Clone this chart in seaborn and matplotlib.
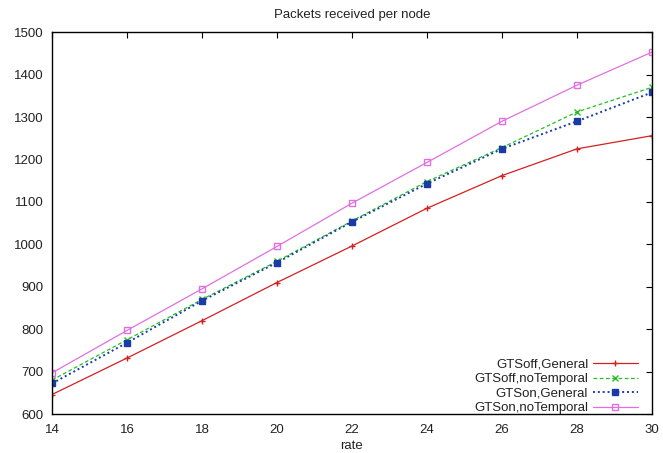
import pandas as pd
import seaborn as sns
import matplotlib.pyplot as plt

# --- data ---
rate = [14, 16, 18, 20, 22, 24, 26, 28, 30]
gts_off_general = [646, 732, 820, 910, 996, 1085, 1162, 1225, 1256]
gts_off_notemporal = [680, 775, 870, 960, 1055, 1148, 1228, 1312, 1370]
gts_on_general = [672, 768, 867, 957, 1053, 1143, 1225, 1290, 1358]
gts_on_notemporal = [697, 797, 895, 995, 1097, 1193, 1290, 1375, 1453]

labels = ["GTSoff,General", "GTSoff,noTemporal", "GTSon,General", "GTSon,noTemporal"]
series = [gts_off_general, gts_off_notemporal, gts_on_general, gts_on_notemporal]

styles = {
    "GTSoff,General": dict(color="#d42020", ls="-", marker="+", ms=5, mfc="#d42020", lw=0.9),
    "GTSoff,noTemporal": dict(color="#22c022", ls=(0, (3, 2)), marker="x", ms=4, mfc="#22c022", lw=0.9),
    "GTSon,General": dict(color="#1a3aa8", ls=(0, (1, 1.5)), marker="s", ms=4, mfc="#1a3aa8", lw=1.4),
    "GTSon,noTemporal": dict(color="#e070e0", ls="-", marker="s", ms=5, mfc="none", lw=0.9),
}

df = pd.DataFrame({
    "rate": rate * len(labels),
    "packets": sum(series, []),
    "series": [lab for lab in labels for _ in rate],
})

sns.set_theme(style="white")
plt.rcParams["font.family"] = ["Liberation Sans", "DejaVu Sans"]
FS = 9.5

fig = plt.figure(figsize=(6.63, 4.53), dpi=100)
ax = fig.add_axes([0.0784, 0.086, 0.905, 0.843])

for lab in labels:
    st = styles[lab]
    sub = df[df["series"] == lab]
    sns.lineplot(data=sub, x="rate", y="packets", ax=ax, label=lab,
                 color=st["color"], linestyle=st["ls"], linewidth=st["lw"],
                 marker=st["marker"], markersize=st["ms"],
                 markerfacecolor=st["mfc"], markeredgecolor=st["color"],
                 markeredgewidth=1.0)

ax.set_xlim(14, 30)
ax.set_ylim(600, 1500)
ax.set_xticks(range(14, 31, 2))
ax.set_yticks(range(600, 1501, 100))
ax.tick_params(direction="in", top=True, right=True, length=4, width=0.8,
               labelsize=FS, colors="black", labelcolor="#222222")
ax.tick_params(axis="y", pad=6)
ax.tick_params(axis="x", pad=7)
for sp in ax.spines.values():
    sp.set_color("black")
    sp.set_linewidth(1.0)

ax.set_xlabel("rate", fontsize=FS, labelpad=3, color="#222222")
ax.set_ylabel("")
ax.set_title("Packets received per node", fontsize=FS, pad=10, color="#222222")

leg = ax.legend(loc="lower right", markerfirst=False, frameon=False,
                fontsize=FS, handlelength=3.4, labelspacing=0.18,
                borderaxespad=0.0, handletextpad=0.35,
                bbox_to_anchor=(0.985, -0.015))
for t in leg.get_texts():
    t.set_ha("right")
    t.set_color("#222222")
leg._legend_box.align = "right"

fig.savefig("out.png", dpi=100)
